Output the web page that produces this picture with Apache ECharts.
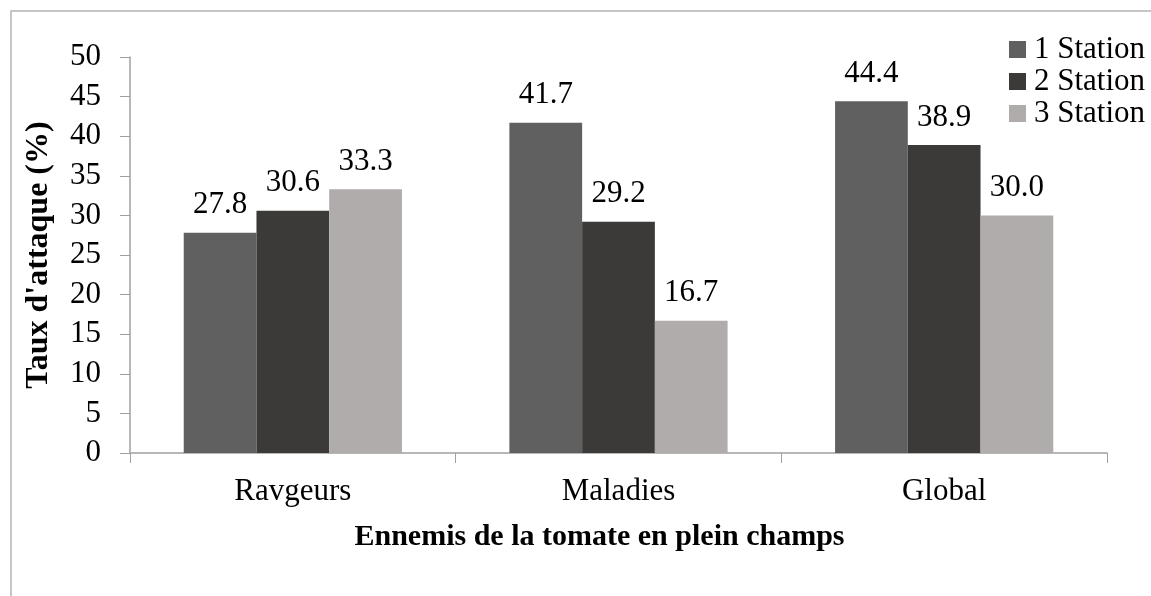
<!DOCTYPE html>
<html>
<head>
<meta charset="utf-8">
<script src="https://cdn.jsdelivr.net/npm/echarts@6/dist/echarts.min.js"></script>
<style>
  html, body { margin: 0; padding: 0; background: #fff; }
  #main { width: 1151px; height: 596px; }
</style>
</head>
<body>
<div id="main"></div>
<script>
var categories = ['Ravgeurs', 'Maladies', 'Global'];
var station1 = [27.8, 41.7, 44.4];
var station2 = [30.6, 29.2, 38.9];
var station3 = [33.3, 16.7, 30.0];
var seriesNames = ['1 Station', '2 Station', '3 Station'];
var colors = ['#606060', '#3b3a39', '#b0acab'];

var font = '"Liberation Serif", "Times New Roman", serif';

var chart = echarts.init(document.getElementById('main'));

function makeSeries(name, data, color) {
  return {
    name: name,
    type: 'bar',
    data: data,
    barGap: '0%',
    barCategoryGap: '33%',
    itemStyle: { color: color },
    label: {
      show: true,
      position: 'top',
      distance: 12,
      color: '#000',
      fontFamily: font,
      fontSize: 31,
      formatter: function (p) { return p.value.toFixed(1); }
    }
  };
}

chart.setOption({
  animation: false,
  color: colors,
  graphic: [{
    type: 'rect',
    shape: { x: 11, y: 11, width: 1300, height: 800 },
    style: { fill: 'none', stroke: '#b4b4b4', lineWidth: 1.5 },
    silent: true
  }],
  grid: { left: 130, right: 44, top: 57, bottom: 143 },
  legend: {
    orient: 'vertical',
    left: 1004,
    top: 29,
    itemWidth: 17,
    itemHeight: 17,
    itemGap: 1,
    icon: 'rect',
    data: seriesNames,
    textStyle: {
      fontFamily: font,
      fontSize: 31,
      color: '#000',
      padding: [0, 0, 0, 3]
    }
  },
  xAxis: {
    type: 'category',
    data: categories,
    name: 'Ennemis de la tomate en plein champs',
    nameLocation: 'middle',
    nameGap: 69,
    nameTextStyle: {
      fontFamily: font, fontSize: 30, fontWeight: 'bold', color: '#000',
      padding: [0, 38, 0, 0]
    },
    axisLine: { lineStyle: { color: '#a0a0a0', width: 1.5 } },
    axisTick: { show: true, length: 10, lineStyle: { color: '#a0a0a0' } },
    axisLabel: { margin: 23, fontFamily: font, fontSize: 31, color: '#000' }
  },
  yAxis: {
    type: 'value',
    min: 0,
    max: 50,
    interval: 5,
    name: "Taux d'attaque (%)",
    nameLocation: 'middle',
    nameGap: 75,
    nameTextStyle: { fontFamily: font, fontSize: 32, fontWeight: 'bold', color: '#000' },
    axisLine: { show: true, lineStyle: { color: '#a0a0a0', width: 1.5 } },
    axisTick: { show: true, length: 10, lineStyle: { color: '#a0a0a0' } },
    splitLine: { show: false },
    axisLabel: { margin: 29, fontFamily: font, fontSize: 31, color: '#000' }
  },
  series: [
    makeSeries(seriesNames[0], station1, colors[0]),
    makeSeries(seriesNames[1], station2, colors[1]),
    makeSeries(seriesNames[2], station3, colors[2])
  ]
});
</script>
</body>
</html>
